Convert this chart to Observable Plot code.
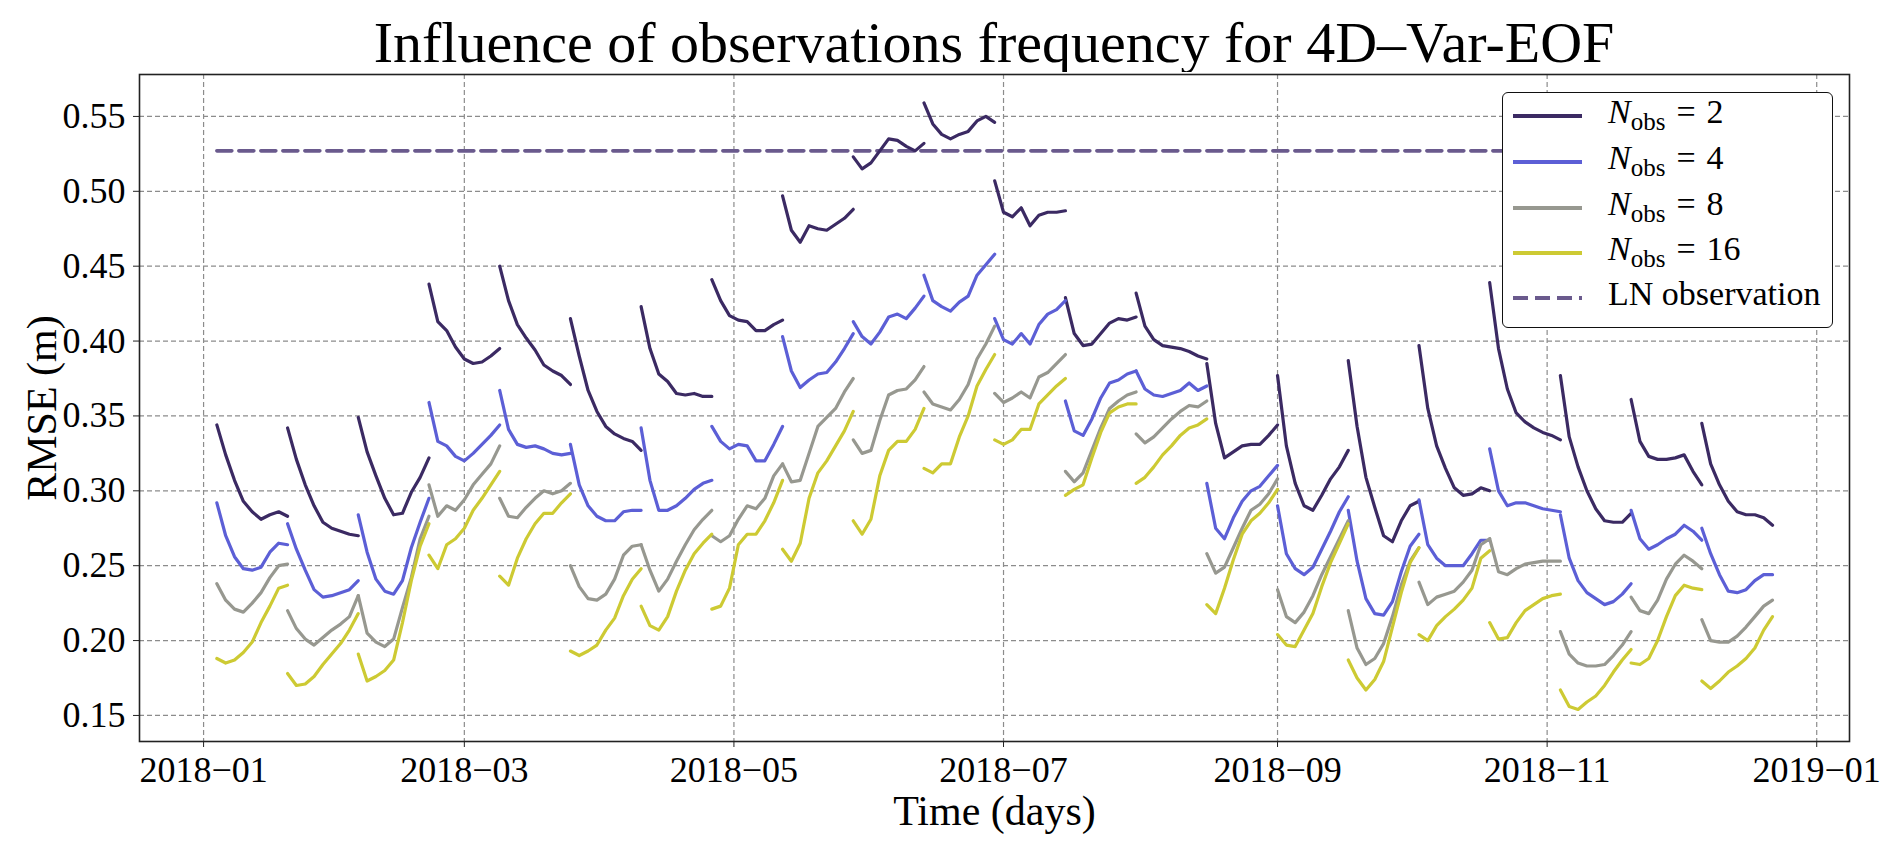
<!DOCTYPE html>
<html>
<head>
<meta charset="utf-8">
<script src="https://cdn.jsdelivr.net/npm/d3@7"></script>
<script src="https://cdn.jsdelivr.net/npm/@observablehq/plot@0.6"></script>
<style>
  body { margin: 0; background: #fff; }
  #wrap { position: relative; width: 1892px; height: 852px; font-family: "Liberation Serif", serif; }
  #title { position: absolute; left: 139px; top: 0; width: 1710px; height: 72px; text-align: center;
    font-size: 58px; line-height: 1; padding-top: 14px; box-sizing: border-box; color: #000; white-space: nowrap; }
  #chart { position: absolute; left: 0; top: 72px; }
  #legend { position: absolute; left: 1502px; top: 92px; width: 331px; height: 236px; box-sizing: border-box;
    border: 1.6px solid #111; border-radius: 6px; background: #fff; }
  .row { position: absolute; left: 0; height: 0; }
  .sw { position: absolute; left: 10px; width: 69px; top: -2px; height: 0; border-top: 4px solid; }
  .lab { position: absolute; left: 105px; top: -21px; font-size: 34px; line-height: 1; white-space: nowrap; }
  .lab sub { font-size: 25px; vertical-align: -7px; }
  .eq { display: inline-block; padding: 0 11px; }
</style>
</head>
<body>
<div id="wrap">
  <div id="title">Influence of observations frequency for 4D–Var-EOF</div>
  <div id="chart"></div>
  <div id="legend"></div>
</div>
<script>
// 16-day assimilation windows, values sampled every 2 days inside each window
const segmentStarts = ["2018-01-04","2018-01-20","2018-02-05","2018-02-21","2018-03-09","2018-03-25",
  "2018-04-10","2018-04-26","2018-05-12","2018-05-28","2018-06-13","2018-06-29","2018-07-15","2018-07-31",
  "2018-08-16","2018-09-01","2018-09-17","2018-10-03","2018-10-19","2018-11-04","2018-11-20","2018-12-06"];
const sampleDays = [0, 2, 4, 6, 8, 10, 12, 14, 16];

const nobs2 = [
  [0.344,0.324,0.307,0.293,0.286,0.281,0.284,0.286,0.283],
  [0.342,0.321,0.304,0.290,0.279,0.275,0.273,0.271,0.270],
  [0.349,0.326,0.310,0.295,0.284,0.285,0.299,0.309,0.322],
  [0.438,0.413,0.407,0.396,0.388,0.385,0.386,0.390,0.395],
  [0.450,0.427,0.411,0.402,0.394,0.384,0.380,0.377,0.371],
  [0.415,0.390,0.367,0.353,0.343,0.338,0.335,0.333,0.327],
  [0.423,0.395,0.378,0.373,0.365,0.364,0.365,0.363,0.363],
  [0.441,0.427,0.417,0.414,0.413,0.407,0.407,0.411,0.414],
  [0.497,0.474,0.466,0.477,0.475,0.474,0.478,0.482,0.488],
  [0.523,0.515,0.519,0.527,0.535,0.534,0.530,0.527,0.532],
  [0.559,0.545,0.538,0.535,0.538,0.540,0.547,0.550,0.546],
  [0.507,0.486,0.483,0.489,0.477,0.484,0.486,0.486,0.487],
  [0.429,0.405,0.397,0.398,0.405,0.412,0.415,0.414,0.416],
  [0.432,0.410,0.401,0.397,0.396,0.395,0.393,0.390,0.388],
  [0.385,0.345,0.322,0.326,0.330,0.331,0.331,0.337,0.344],
  [0.377,0.330,0.305,0.290,0.287,0.297,0.308,0.316,0.327],
  [0.387,0.343,0.309,0.289,0.270,0.266,0.280,0.290,0.293],
  [0.397,0.355,0.330,0.315,0.302,0.297,0.298,0.302,0.300],
  [0.439,0.395,0.368,0.352,0.346,0.342,0.339,0.337,0.334],
  [0.377,0.336,0.316,0.300,0.288,0.280,0.279,0.279,0.285],
  [0.361,0.333,0.323,0.321,0.321,0.322,0.324,0.313,0.304],
  [0.345,0.318,0.304,0.293,0.286,0.284,0.284,0.282,0.277]
];
const nobs4 = [
  [0.292,0.270,0.256,0.248,0.247,0.249,0.259,0.265,0.264],
  [0.278,0.261,0.247,0.234,0.229,0.230,0.232,0.234,0.240],
  [0.284,0.259,0.241,0.233,0.231,0.240,0.262,0.279,0.295],
  [0.359,0.333,0.330,0.323,0.320,0.325,0.331,0.337,0.344],
  [0.367,0.341,0.331,0.329,0.330,0.328,0.325,0.324,0.325],
  [0.331,0.304,0.290,0.283,0.280,0.280,0.286,0.287,0.287],
  [0.342,0.307,0.287,0.287,0.290,0.295,0.301,0.305,0.307],
  [0.343,0.333,0.328,0.331,0.330,0.320,0.320,0.331,0.343],
  [0.403,0.380,0.369,0.374,0.378,0.379,0.386,0.395,0.405],
  [0.413,0.403,0.398,0.406,0.416,0.418,0.415,0.422,0.430],
  [0.444,0.427,0.423,0.420,0.426,0.430,0.444,0.451,0.458],
  [0.415,0.401,0.398,0.405,0.398,0.411,0.418,0.421,0.427],
  [0.360,0.340,0.337,0.348,0.362,0.372,0.374,0.378,0.380],
  [0.380,0.368,0.364,0.363,0.365,0.367,0.372,0.367,0.370],
  [0.305,0.275,0.268,0.282,0.293,0.300,0.303,0.310,0.317],
  [0.290,0.258,0.248,0.244,0.249,0.261,0.273,0.286,0.296],
  [0.287,0.253,0.228,0.218,0.217,0.226,0.246,0.263,0.271],
  [0.294,0.264,0.255,0.250,0.250,0.250,0.258,0.267,0.267],
  [0.328,0.300,0.290,0.292,0.292,0.290,0.288,0.287,0.286],
  [0.284,0.255,0.240,0.232,0.228,0.224,0.226,0.231,0.238],
  [0.287,0.268,0.261,0.264,0.268,0.271,0.277,0.273,0.267],
  [0.275,0.258,0.244,0.233,0.232,0.234,0.240,0.244,0.244]
];
const nobs8 = [
  [0.238,0.227,0.221,0.219,0.225,0.232,0.242,0.250,0.251],
  [0.220,0.208,0.201,0.197,0.202,0.207,0.211,0.216,0.230],
  [0.230,0.205,0.199,0.196,0.201,0.222,0.242,0.268,0.283],
  [0.304,0.283,0.290,0.287,0.294,0.304,0.311,0.318,0.330],
  [0.295,0.283,0.282,0.289,0.295,0.300,0.298,0.300,0.305],
  [0.250,0.236,0.228,0.227,0.231,0.241,0.257,0.263,0.264],
  [0.264,0.247,0.233,0.241,0.253,0.264,0.274,0.281,0.287],
  [0.270,0.266,0.270,0.281,0.290,0.288,0.295,0.310,0.318],
  [0.318,0.306,0.307,0.325,0.343,0.349,0.355,0.366,0.375],
  [0.334,0.325,0.327,0.347,0.364,0.367,0.368,0.374,0.383],
  [0.366,0.358,0.356,0.354,0.361,0.371,0.388,0.398,0.410],
  [0.365,0.359,0.362,0.366,0.362,0.376,0.379,0.385,0.391],
  [0.313,0.306,0.312,0.327,0.342,0.355,0.360,0.364,0.366],
  [0.338,0.332,0.336,0.342,0.348,0.353,0.357,0.356,0.360],
  [0.258,0.245,0.249,0.262,0.275,0.287,0.291,0.298,0.308],
  [0.234,0.216,0.212,0.219,0.230,0.244,0.256,0.268,0.280],
  [0.220,0.195,0.184,0.188,0.198,0.216,0.237,0.253,0.262],
  [0.239,0.224,0.229,0.231,0.233,0.239,0.247,0.264,0.268],
  [0.268,0.246,0.244,0.248,0.251,0.252,0.253,0.253,0.253],
  [0.206,0.191,0.185,0.183,0.183,0.184,0.190,0.197,0.206],
  [0.229,0.220,0.218,0.227,0.241,0.251,0.257,0.253,0.248],
  [0.214,0.200,0.199,0.199,0.203,0.209,0.216,0.223,0.227]
];
const nobs16 = [
  [0.188,0.185,0.187,0.192,0.199,0.212,0.223,0.235,0.237],
  [0.178,0.170,0.171,0.176,0.184,0.191,0.198,0.207,0.218],
  [0.191,0.173,0.176,0.180,0.187,0.212,0.240,0.263,0.278],
  [0.257,0.248,0.264,0.268,0.275,0.287,0.295,0.304,0.313],
  [0.243,0.237,0.255,0.268,0.278,0.285,0.285,0.292,0.298],
  [0.193,0.190,0.193,0.197,0.207,0.215,0.230,0.241,0.248],
  [0.223,0.210,0.207,0.216,0.233,0.247,0.258,0.265,0.271],
  [0.221,0.223,0.235,0.264,0.271,0.271,0.280,0.292,0.307],
  [0.261,0.253,0.265,0.295,0.312,0.320,0.330,0.340,0.353],
  [0.280,0.271,0.281,0.310,0.327,0.333,0.333,0.341,0.355],
  [0.315,0.312,0.318,0.318,0.336,0.350,0.370,0.381,0.391],
  [0.334,0.331,0.334,0.341,0.341,0.358,0.364,0.370,0.375],
  [0.297,0.301,0.304,0.322,0.339,0.352,0.356,0.358,0.358],
  [0.305,0.309,0.316,0.324,0.330,0.337,0.342,0.344,0.348],
  [0.224,0.218,0.235,0.254,0.271,0.280,0.285,0.292,0.301],
  [0.204,0.197,0.196,0.207,0.218,0.236,0.252,0.265,0.278],
  [0.187,0.175,0.167,0.174,0.186,0.209,0.232,0.252,0.262],
  [0.204,0.200,0.210,0.216,0.221,0.227,0.235,0.255,0.260],
  [0.212,0.201,0.202,0.212,0.220,0.224,0.228,0.230,0.231],
  [0.167,0.156,0.154,0.159,0.163,0.170,0.179,0.187,0.194],
  [0.185,0.184,0.188,0.200,0.216,0.230,0.237,0.235,0.234],
  [0.173,0.168,0.173,0.179,0.183,0.188,0.195,0.207,0.216]
];

const lnValue = 0.527;
const lnDates = ["2018-01-04", "2018-12-22"];

const seriesNames = ["2", "4", "8", "16"];
const seriesColors = ["#3b2a63", "#5c5fd6", "#979890", "#cdca33"];
const lnColor = "#6a5a8d";

const yTicks = [0.15, 0.20, 0.25, 0.30, 0.35, 0.40, 0.45, 0.50, 0.55];
const xTicks = ["2018-01-01","2018-03-01","2018-05-01","2018-07-01","2018-09-01","2018-11-01","2019-01-01"];

// build the long table
const allSeries = [nobs2, nobs4, nobs8, nobs16];
const rows = [];
allSeries.forEach((segs, si) => {
  segs.forEach((vals, k) => {
    const start = new Date(segmentStarts[k] + "T00:00:00Z");
    vals.forEach((v, i) => {
      rows.push({
        series: seriesNames[si],
        seg: seriesNames[si] + "-" + k,
        date: d3.utcDay.offset(start, sampleDays[i]),
        rmse: v
      });
    });
  });
});
const lnRows = lnDates.map((d) => ({ date: new Date(d + "T00:00:00Z"), rmse: lnValue }));

const xTickDates = xTicks.map((d) => new Date(d + "T00:00:00Z"));
const fmtX = (d) => d3.utcFormat("%Y")(d) + "\u2212" + d3.utcFormat("%m")(d);
const gridStyle = { stroke: "#8c8c8c", strokeOpacity: 1, strokeWidth: 1.2, strokeDasharray: "5,3" };

const chart = Plot.plot({
  width: 1892,
  height: 780,
  marginTop: 2,
  marginBottom: 111,
  marginLeft: 139,
  marginRight: 43,
  style: { fontFamily: "Liberation Serif, serif", color: "#000", background: "#fff" },
  x: {
    type: "utc",
    domain: [new Date("2017-12-17T12:00:00Z"), new Date("2019-01-08T10:00:00Z")]
  },
  y: { domain: [0.1326, 0.578] },
  color: { domain: seriesNames, range: seriesColors },
  marks: [
    Plot.gridX(xTickDates, { ...gridStyle }),
    Plot.gridY(yTicks, { ...gridStyle }),
    Plot.line(lnRows, { x: "date", y: "rmse", stroke: lnColor, strokeWidth: 3.6, strokeDasharray: "15,7" }),
    Plot.line(rows, { x: "date", y: "rmse", z: "seg", stroke: "series", strokeWidth: 3.2, curve: "linear" }),
    Plot.axisX(xTickDates, { tickFormat: fmtX, fontSize: 36, tickSize: 6, tickPadding: 9, stroke: "#222", label: null }),
    Plot.axisY(yTicks, { tickFormat: d3.format(".2f"), fontSize: 36, tickSize: 6, tickPadding: 8, stroke: "#222", label: null }),
    Plot.frame({ stroke: "#222", strokeWidth: 1.6 }),
    Plot.text(["RMSE (m)"], { frameAnchor: "left", textAnchor: "middle", lineAnchor: "middle", dx: -97, rotate: -90, fontSize: 42, fill: "#000" }),
    Plot.text(["Time (days)"], { frameAnchor: "bottom", textAnchor: "middle", lineAnchor: "bottom", dy: 83, fontSize: 42, fill: "#000" })
  ]
});
d3.select("#chart").append(() => chart);

// legend drawn as html over the plot corner
const legendItems = [
  { label: "2", color: seriesColors[0], dash: false },
  { label: "4", color: seriesColors[1], dash: false },
  { label: "8", color: seriesColors[2], dash: false },
  { label: "16", color: seriesColors[3], dash: false },
  { label: null, color: lnColor, dash: true }
];
const rowTops = [23, 69, 115, 160, 205];
const legend = d3.select("#legend");
legendItems.forEach((it, i) => {
  const r = legend.append("div").attr("class", "row").style("top", rowTops[i] + "px");
  if (it.dash) {
    r.append("svg").attr("width", 80).attr("height", 8)
      .style("position", "absolute").style("left", "10px").style("top", "-4px")
      .append("line").attr("x1", 0).attr("x2", 69).attr("y1", 4).attr("y2", 4)
      .attr("stroke", it.color).attr("stroke-width", 4).attr("stroke-dasharray", "15,7");
    r.append("div").attr("class", "lab").text("LN observation");
  } else {
    r.append("div").attr("class", "sw").style("border-top-color", it.color);
    r.append("div").attr("class", "lab")
      .html('<i>N</i><sub>obs</sub><span class="eq">=</span>' + it.label);
  }
});
</script>
</body>
</html>
